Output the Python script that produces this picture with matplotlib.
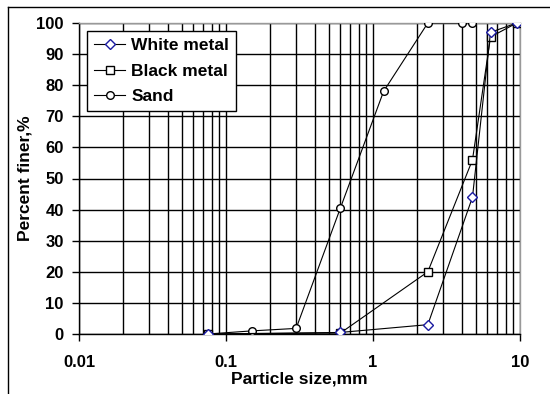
import matplotlib
matplotlib.use("Agg")
import matplotlib.pyplot as plt
from matplotlib.lines import Line2D
from matplotlib.ticker import LogLocator, FixedLocator, NullFormatter

plt.rcParams['font.family'] = ['Liberation Sans', 'DejaVu Sans']

# Data
white_x = [0.075, 0.6, 2.36, 4.75, 6.3, 9.5]
white_y = [0, 0.5, 3, 44, 97, 100]
black_x = [0.075, 0.6, 2.36, 4.75, 6.3, 9.5]
black_y = [0, 0.3, 20, 56, 95.5, 100]
sand_x = [0.075, 0.15, 0.3, 0.6, 1.18, 2.36, 4.0, 4.75]
sand_y = [0, 1, 1.8, 40.5, 78, 100, 100, 100]
y_ticks = [0, 10, 20, 30, 40, 50, 60, 70, 80, 90, 100]
x_ticks = [0.01, 0.1, 1, 10]
x_tick_labels = ['0.01', '0.1', '1', '10']

fig = plt.figure(figsize=(5.5, 3.94), dpi=100)
ax = fig.add_axes([79/550, 1-334/394, (520-79)/550, (334-23)/394])

ax.plot(white_x, white_y, color='black', lw=0.8, marker='D', ms=5,
        mfc='white', mec='#1a1aa0', mew=1.0, label='White metal', zorder=5)
ax.plot(black_x, black_y, color='black', lw=0.8, marker='s', ms=6,
        mfc='white', mec='black', mew=1.0, label='Black metal', zorder=4)
ax.plot(sand_x, sand_y, color='black', lw=0.8, marker='o', ms=5.5,
        mfc='white', mec='black', mew=1.0, label='Sand', zorder=3)

ax.set_xscale('log')
ax.set_xlim(0.01, 10)
ax.set_ylim(0, 100)
ax.xaxis.set_major_locator(FixedLocator(x_ticks))
ax.set_xticklabels(x_tick_labels)
ax.xaxis.set_minor_locator(LogLocator(base=10, subs=range(2, 10)))
ax.xaxis.set_minor_formatter(NullFormatter())
ax.set_yticks(y_ticks)

ax.grid(True, which='both', axis='x', color='black', lw=1.0)
ax.grid(True, which='major', axis='y', color='black', lw=1.0)
ax.set_axisbelow(True)

ax.tick_params(axis='both', which='major', direction='out', length=5, width=1,
               labelsize=12)
ax.tick_params(axis='y', pad=6)
ax.tick_params(axis='x', pad=10)
ax.tick_params(axis='x', which='minor', length=0)
for lab in ax.get_xticklabels() + ax.get_yticklabels():
    lab.set_fontweight('bold')

for s in ['left', 'bottom']:
    ax.spines[s].set_color('black')
    ax.spines[s].set_linewidth(1.0)
for s in ['top', 'right']:
    ax.spines[s].set_color('#999999')
    ax.spines[s].set_linewidth(1.0)

ax.set_xlabel('Particle size,mm', fontsize=12.5, fontweight='bold', labelpad=1)
ax.set_ylabel('Percent finer,%', fontsize=12.5, fontweight='bold', labelpad=3)

leg = ax.legend(loc='upper left', bbox_to_anchor=(8/441, 1-8/311), frameon=True,
                fancybox=False, edgecolor='black', framealpha=1,
                prop={'weight': 'bold', 'size': 12.5}, handlelength=1.8,
                handletextpad=0.35, borderpad=0.4, labelspacing=0.6,
                borderaxespad=0)
leg.get_frame().set_linewidth(1.0)

# outer chart-area border
fig.add_artist(Line2D([8/550, 8/550], [0, 1-7/394], transform=fig.transFigure,
                      color='black', lw=1.0))
fig.add_artist(Line2D([8/550, 1], [1-7/394, 1-7/394], transform=fig.transFigure,
                      color='black', lw=1.0))

fig.savefig('out.png', dpi=100)
